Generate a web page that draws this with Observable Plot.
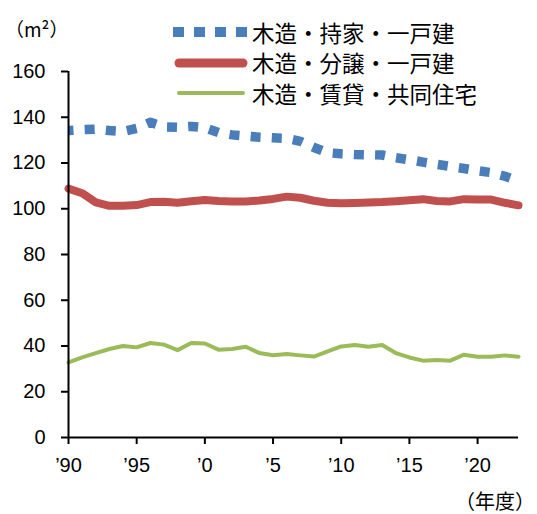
<!DOCTYPE html>
<html><head><meta charset="utf-8">
<script src="https://cdn.jsdelivr.net/npm/d3@7"></script>
<script src="https://cdn.jsdelivr.net/npm/@observablehq/plot@0.6"></script>
<style>
body{margin:0;background:#fff;}
#wrap{position:relative;width:537px;height:514px;}
.jp{position:absolute;font-family:"Noto Sans CJK JP",sans-serif;color:#000;white-space:nowrap;line-height:1;}
.row{position:absolute;left:172px;height:30px;display:flex;align-items:center;}
.row svg{display:block;}
.row span{font-family:"Noto Sans CJK JP",sans-serif;font-size:22.5px;line-height:1;margin-left:4px;color:#000;white-space:nowrap;}
</style></head><body><div id="wrap"></div>
<script>
const years = [1990,1991,1992,1993,1994,1995,1996,1997,1998,1999,2000,2001,2002,2003,2004,2005,2006,2007,2008,2009,2010,2011,2012,2013,2014,2015,2016,2017,2018,2019,2020,2021,2022,2023];
const ownedDetached = [134.2,134.6,134.8,134.2,133.8,135.2,137.8,135.8,135.6,136.0,135.4,133.3,132.3,131.8,131.3,131.0,130.8,129.5,126.8,124.5,124.0,123.7,123.6,123.5,122.3,121.4,120.4,119.4,118.5,117.6,116.6,115.8,114.2,112.2];
const forSaleDetached = [108.8,106.8,102.8,101.3,101.3,101.6,102.9,103.1,102.6,103.3,103.8,103.4,103.2,103.2,103.6,104.3,105.3,104.8,103.5,102.6,102.4,102.5,102.7,102.9,103.3,103.7,104.2,103.4,103.2,104.2,104.0,104.0,102.6,101.5];
const rentalApartment = [32.8,35.0,36.9,38.7,40.0,39.4,41.3,40.6,38.2,41.3,41.1,38.4,38.7,39.7,36.9,36.0,36.5,35.9,35.4,37.6,39.8,40.4,39.7,40.4,36.9,35.0,33.6,33.9,33.6,36.2,35.3,35.3,35.9,35.3];
const seriesNames = ["木造・持家・一戸建","木造・分譲・一戸建","木造・賃貸・共同住宅"];
const seriesColors = ["#4a7ebb","#c0504d","#9bbb59"];
const yTicks = [0,20,40,60,80,100,120,140,160];
const xTicks = [1990,1995,2000,2005,2010,2015,2020];
const xTickLabels = ["’90","’95","’0","’5","’10","’15","’20"];
const yUnit = "（m²）";
const xUnit = "（年度）";

const rows = (vals) => years.map((year, i) => ({year, value: vals[i]}));

const chart = Plot.plot({
  width: 537, height: 514,
  marginLeft: 68, marginRight: 19, marginTop: 71, marginBottom: 77,
  x: {domain: [1990, 2023]},
  y: {domain: [0, 160]},
  style: {fontFamily: "'Liberation Sans', Arial, sans-serif", fontSize: "20px", color: "#000", background: "transparent"},
  marks: [
    Plot.lineY(rows(rentalApartment), {x: "year", y: "value", stroke: seriesColors[2], strokeWidth: 4, strokeLinejoin: "round"}),
    Plot.lineY(rows(forSaleDetached), {x: "year", y: "value", stroke: seriesColors[1], strokeWidth: 8, strokeLinejoin: "round"}),
    Plot.lineY(rows(ownedDetached), {x: "year", y: "value", stroke: seriesColors[0], strokeWidth: 9.5, strokeDasharray: "10,11.2", strokeDashoffset: 5, strokeLinecap: "butt"}),
    Plot.ruleX([1990], {stroke: "#000", strokeWidth: 2}),
    Plot.ruleY([0], {stroke: "#000", strokeWidth: 2}),
    Plot.axisY({ticks: yTicks, tickSize: 7, tickPadding: 16, label: null, strokeWidth: 2, fontSize: 20}),
    Plot.axisX({ticks: xTicks, tickFormat: d => xTickLabels[xTicks.indexOf(d)], tickSize: 7, tickPadding: 13, label: null, strokeWidth: 2, fontSize: 20})
  ]
});

const wrap = document.getElementById("wrap");
wrap.appendChild(chart);
chart.style.position = "absolute"; chart.style.left = "0"; chart.style.top = "0";

const yu = document.createElement("div");
yu.className = "jp"; yu.textContent = yUnit;
yu.style.left = "5px"; yu.style.top = "19px"; yu.style.fontSize = "19px";
wrap.appendChild(yu);

const xu = document.createElement("div");
xu.className = "jp"; xu.textContent = xUnit;
xu.style.right = "2px"; xu.style.top = "491px"; xu.style.fontSize = "20px";
wrap.appendChild(xu);

const rowTops = [17, 47.5, 78];
const ns = "http://www.w3.org/2000/svg";
seriesNames.forEach((name, i) => {
  const row = document.createElement("div");
  row.className = "row"; row.style.top = rowTops[i] + "px";
  const svg = document.createElementNS(ns, "svg");
  svg.setAttribute("width", 76); svg.setAttribute("height", 30);
  const ln = document.createElementNS(ns, "line");
  ln.setAttribute("y1", 15); ln.setAttribute("y2", 15);
  ln.setAttribute("stroke", seriesColors[i]);
  if (i === 0) {
    ln.setAttribute("x1", 1); ln.setAttribute("x2", 76);
    ln.setAttribute("stroke-width", 10); ln.setAttribute("stroke-dasharray", "11,10");
  } else if (i === 1) {
    ln.setAttribute("x1", 7); ln.setAttribute("x2", 71);
    ln.setAttribute("stroke-width", 9); ln.setAttribute("stroke-linecap", "round");
  } else {
    ln.setAttribute("x1", 7); ln.setAttribute("x2", 71);
    ln.setAttribute("stroke-width", 4); ln.setAttribute("stroke-linecap", "round");
  }
  svg.appendChild(ln);
  row.appendChild(svg);
  const sp = document.createElement("span");
  sp.textContent = name;
  row.appendChild(sp);
  wrap.appendChild(row);
});
</script></body></html>
